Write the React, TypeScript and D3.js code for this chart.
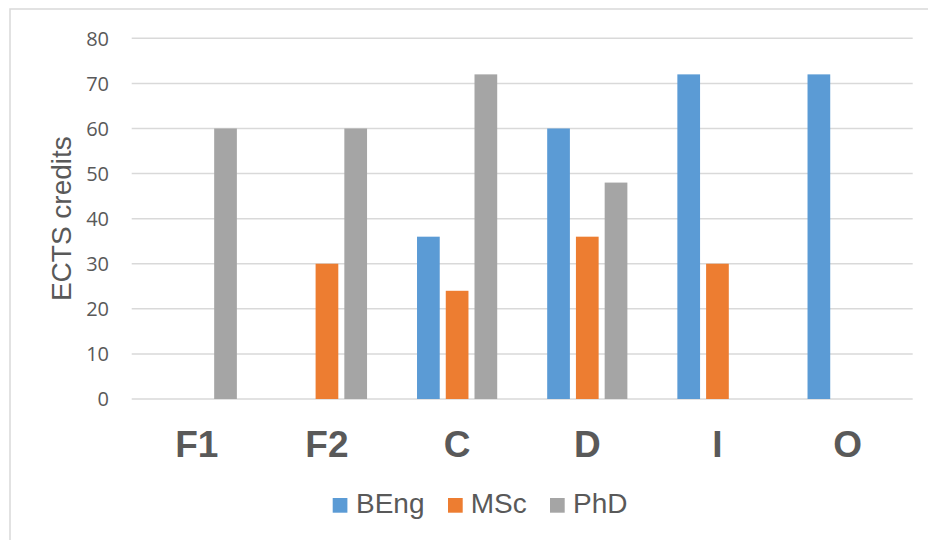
import React from "react";
import * as d3 from "d3";

const categories = ["F1", "F2", "C", "D", "I", "O"];
const seriesNames = ["BEng", "MSc", "PhD"];
const bengValues = [0, 0, 36, 60, 72, 72];
const mscValues = [0, 30, 24, 36, 30, 0];
const phdValues = [60, 60, 72, 48, 0, 0];
const yTicks = [0, 10, 20, 30, 40, 50, 60, 70, 80];
const colors = ["#5B9BD5", "#ED7D31", "#A5A5A5"];

const W = 928;
const H = 540;
const plotLeft = 131.7;
const plotRight = 912.7;
const plotTop = 38.3;
const plotBottom = 399;

export default function App() {
  const seriesValues = [bengValues, mscValues, phdValues];
  const x0 = d3
    .scaleBand<string>()
    .domain(categories)
    .range([plotLeft, plotRight])
    .paddingInner(0.384)
    .paddingOuter(0.192);
  const x1 = d3
    .scaleBand<string>()
    .domain(seriesNames)
    .range([0, x0.bandwidth()])
    .paddingInner(0.21)
    .paddingOuter(0);
  const y = d3.scaleLinear().domain([0, 80]).range([plotBottom, plotTop]);

  const textColor = "#595959";
  const sans = "'Liberation Sans', Arial, sans-serif";

  // legend layout
  const legendItems = [
    { name: "BEng", sx: 332.7, tx: 356 },
    { name: "MSc", sx: 448, tx: 470.7 },
    { name: "PhD", sx: 550, tx: 573 },
  ];

  return (
    <svg
      width={W}
      height={H}
      style={{ position: "absolute", left: 0, top: 0, background: "#fff" }}
    >
      <rect x={0} y={0} width={W} height={H} fill="#fff" />
      <rect
        x={10}
        y={9}
        width={W + 20}
        height={H + 20}
        fill="none"
        stroke="#d9d9d9"
        strokeWidth={1.5}
      />
      {/* gridlines */}
      {yTicks.map((t) => (
        <line
          key={"g" + t}
          x1={plotLeft}
          x2={plotRight}
          y1={y(t)}
          y2={y(t)}
          stroke="#d9d9d9"
          strokeWidth={1.5}
        />
      ))}
      {/* tick labels */}
      {yTicks.map((t) => (
        <text
          key={"t" + t}
          x={109}
          y={y(t)}
          dy="0.36em"
          textAnchor="end"
          fontFamily="'Open Sans', sans-serif"
          fontSize={20}
          fill={textColor}
        >
          {t}
        </text>
      ))}
      {/* bars */}
      {categories.map((c, ci) => (
        <g key={c} transform={`translate(${x0(c)},0)`}>
          {seriesNames.map((s, si) => {
            const v = seriesValues[si][ci];
            if (!v) return null;
            return (
              <rect
                key={s}
                x={x1(s)}
                y={y(v)}
                width={x1.bandwidth()}
                height={y(0) - y(v)}
                fill={colors[si]}
              />
            );
          })}
        </g>
      ))}
      {/* category labels */}
      {categories.map((c) => (
        <text
          key={"c" + c}
          x={(x0(c) as number) + x0.bandwidth() / 2}
          y={457}
          textAnchor="middle"
          fontFamily={sans}
          fontWeight="bold"
          fontSize={37}
          fill={textColor}
        >
          {c}
        </text>
      ))}
      {/* y axis title */}
      <text
        transform={`translate(71,${(plotTop + plotBottom) / 2}) rotate(-90)`}
        textAnchor="middle"
        fontFamily={sans}
        fontSize={28}
        fill={textColor}
      >
        ECTS credits
      </text>
      {/* legend */}
      {legendItems.map((it, i) => (
        <g key={it.name}>
          <rect x={it.sx} y={498} width={14.7} height={14.7} fill={colors[i]} />
          <text
            x={it.tx}
            y={513.3}
            fontFamily={sans}
            fontSize={28}
            fill={textColor}
          >
            {it.name}
          </text>
        </g>
      ))}
    </svg>
  );
}
